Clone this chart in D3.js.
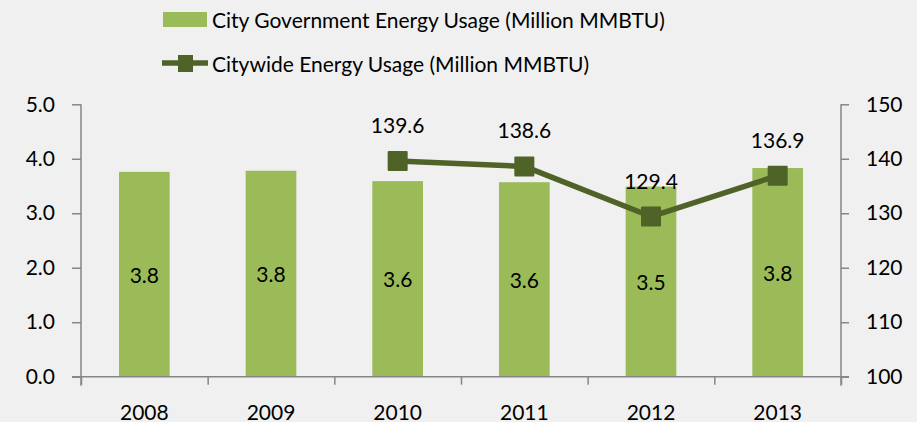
<!DOCTYPE html>
<html><head><meta charset="utf-8">
<script src="https://cdn.jsdelivr.net/npm/d3@7"></script>
<style>
html,body{margin:0;padding:0;background:#f0f0f0;}
svg{display:block;}
text{font-family:Lato,"Open Sans",sans-serif;fill:#000;}
</style></head>
<body>
<svg id="c" width="917" height="422"></svg>
<script>
const years = ["2008","2009","2010","2011","2012","2013"];
const cityGov = [3.76, 3.78, 3.59, 3.57, 3.49, 3.83];
const cityGovLabels = ["3.8","3.8","3.6","3.6","3.5","3.8"];
const citywide = [null, null, 139.6, 138.6, 129.4, 136.9];
const leftTicks = [0,1,2,3,4,5];
const rightTicks = [100,110,120,130,140,150];
const legendLabels = ["City Government Energy Usage (Million MMBTU)","Citywide Energy Usage (Million MMBTU)"];

const svg = d3.select("#c");
const barColor = "#9bbb59", lineColor = "#4f6228", axisColor = "#868686";
const fs = 21;
const x0 = 81, x1 = 841, yTop = 104.3, yBot = 376.7;

const x = d3.scaleBand().domain(years).range([x0, x1]).paddingInner(0.6).paddingOuter(0.3);
const yL = d3.scaleLinear().domain([0,5]).range([yBot, yTop]);
const yR = d3.scaleLinear().domain([100,150]).range([yBot, yTop]);
const xc = d => x(d) + x.bandwidth()/2;

// bars
svg.selectAll("rect.bar").data(years).enter().append("rect")
  .attr("x", d => x(d)).attr("width", x.bandwidth())
  .attr("y", (d,i) => yL(cityGov[i])).attr("height", (d,i) => yBot - yL(cityGov[i]))
  .attr("fill", barColor);

// bar labels
svg.selectAll("text.bl").data(years).enter().append("text")
  .attr("x", d => xc(d)).attr("y", (d,i) => yL(cityGov[i]/2))
  .attr("text-anchor","middle").attr("dominant-baseline","central")
  .style("font-size", fs+"px").text((d,i) => cityGovLabels[i]);

// left axis
const gL = svg.append("g").attr("transform", `translate(${x0},0)`)
  .call(d3.axisLeft(yL).tickValues(leftTicks).tickFormat(d3.format(".1f")).tickSize(9).tickPadding(17));
// right axis
const gR = svg.append("g").attr("transform", `translate(${x1},0)`)
  .call(d3.axisRight(yR).tickValues(rightTicks).tickSize(8).tickPadding(17));
// bottom axis
const xb = d3.scaleLinear().domain([0, years.length]).range([x0, x1]);
const gB = svg.append("g").attr("transform", `translate(0,${yBot})`)
  .call(d3.axisBottom(xb).tickValues(d3.range(0, years.length+1)).tickFormat("").tickSize(8));
gB.selectAll(".domain").attr("d", `M${x0-9},0H${x1+8}`);
[gL,gR,gB].forEach(g => {
  g.selectAll(".domain").attr("stroke", axisColor).attr("stroke-width", 1.5);
  g.selectAll(".tick line").attr("stroke", axisColor).attr("stroke-width", 1.5);
  g.selectAll("text").style("font-size", fs+"px").style("font-family","Lato,'Open Sans',sans-serif").attr("fill","#000");
});
gL.select(".domain").attr("d", `M0,${yTop}V${yBot+9}`);
gR.select(".domain").attr("d", `M0,${yTop}V${yBot+9}`);

// x labels
svg.selectAll("text.xl").data(years).enter().append("text")
  .attr("x", d => xc(d)).attr("y", 411).attr("text-anchor","middle").attr("dominant-baseline","central")
  .style("font-size", fs+"px").text(d => d);

// line
const pts = years.map((d,i) => ({d, v: citywide[i]})).filter(p => p.v !== null);
const line = d3.line().x(p => xc(p.d)).y(p => yR(p.v));
svg.append("path").datum(pts).attr("d", line).attr("fill","none")
  .attr("stroke", lineColor).attr("stroke-width", 5.5).attr("stroke-linejoin","round");
const ms = 20;
svg.selectAll("rect.m").data(pts).enter().append("rect")
  .attr("x", p => xc(p.d) - ms/2).attr("y", p => yR(p.v) - ms/2)
  .attr("width", ms).attr("height", ms).attr("rx", 1).attr("fill", "#4f6228");
svg.selectAll("text.ll").data(pts).enter().append("text")
  .attr("x", p => xc(p.d)).attr("y", p => yR(p.v) - 36.5)
  .attr("text-anchor","middle").attr("dominant-baseline","central")
  .style("font-size", fs+"px").text(p => d3.format(".1f")(p.v));

// legend
const lg = svg.append("g");
lg.append("rect").attr("x",163).attr("y",12).attr("width",44).attr("height",15).attr("fill",barColor);
lg.append("text").attr("x",212).attr("y",19.5).attr("dominant-baseline","central").style("font-size",fs+"px").text(legendLabels[0]);
lg.append("line").attr("x1",162).attr("x2",208).attr("y1",63).attr("y2",63).attr("stroke",lineColor).attr("stroke-width",5.5);
lg.append("rect").attr("x",178).attr("y",55).attr("width",15).attr("height",17).attr("fill",lineColor);
lg.append("text").attr("x",212).attr("y",63).attr("dominant-baseline","central").style("font-size",fs+"px").text(legendLabels[1]);
</script>
</body></html>
